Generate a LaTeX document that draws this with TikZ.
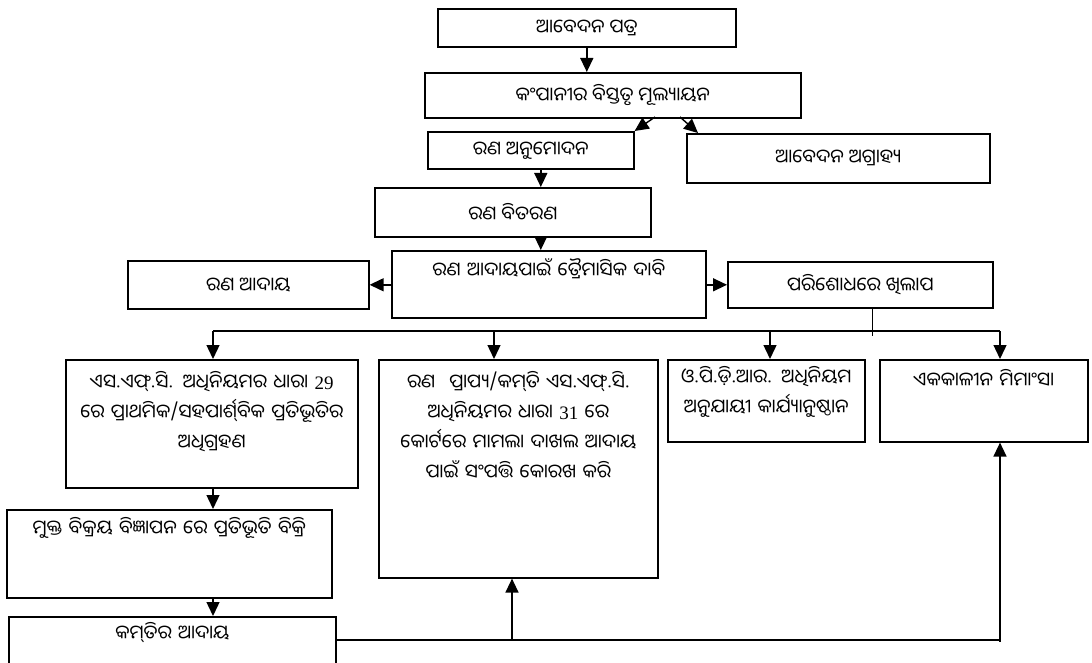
\documentclass[tikz,border=0pt]{standalone}
\usepackage{fontspec}
\newfontfamily\odia[Script=Oriya]{Noto Sans Oriya UI}
\newfontfamily\latn{Liberation Serif}
\usetikzlibrary{arrows.meta,calc}

\begin{document}
\begin{tikzpicture}[x=1pt,y=-1pt]
\tikzset{box/.style = {draw, line width=1.6pt, inner sep=0pt, anchor=north west, font=\odia\fontsize{19}{30}\selectfont}}
\tikzset{topbox/.style = {box, align=center}}
\tikzset{arr/.style = {-{Triangle[width=13pt,length=14pt]}, line width=1.4pt}}
\tikzset{wire/.style = {line width=1.4pt}}
\useasboundingbox (0,0) rectangle (1092,663);
% boxes
\node[box, minimum width=298pt, minimum height=38pt] (apply) at (437,8) {ଆବେଦନ ପତ୍ର};
\node[box, minimum width=376pt, minimum height=45pt] (eval) at (424,72) {କଂପାନୀର ବିସ୍ତୃତ ମୂଲ୍ୟାୟନ};
\node[box, minimum width=206pt, minimum height=37pt] (sanction) at (427,131) {ରଣ ଅନୁମୋଦନ};
\node[box, minimum width=303pt, minimum height=49pt] (reject) at (686,133) {ଆବେଦନ ଅଗ୍ରାହ୍ୟ};
\node[box, minimum width=276pt, minimum height=49pt] (disburse) at (374,187) {ରଣ ବିତରଣ};
\node[topbox, minimum width=314pt, minimum height=67pt, text width=308pt,
  text height=27pt, text depth=40pt] (demand) at (391,250) {ରଣ ଆଦାୟପାଇଁ ତ୍ରୈମାସିକ ଦାବି};
\node[box, minimum width=241pt, minimum height=48pt] (recover) at (127,260) {ରଣ ଆଦାୟ};
\node[box, minimum width=265pt, minimum height=46pt] (lapse) at (727,261) {ପରିଶୋଧରେ ଖିଲାପ};
\node[topbox, minimum width=292pt, minimum height=128pt, text width=288pt,
  text height=30pt, text depth=98pt] (sec29) at (65,359)
  {ଏସ.ଏଫ୍.ସି. ଅଧିନିୟମର ଧାରା {\latn 29}\\ରେ ପ୍ରାଥମିକ/ସହପାର୍ଶ୍^^^^200dବିକ ପ୍ରତିଭୂତିର\\ଅଧିଗ୍ରହଣ};
\node[topbox, minimum width=279pt, minimum height=218pt, text width=275pt,
  text height=30pt, text depth=188pt] (sec31) at (378,359)
  {ରଣ\hspace{14pt}ପ୍ରାପ୍ୟ/କମ୍^^^^200cତି ଏସ.ଏଫ୍.ସି.\\ଅଧିନିୟମର ଧାରା {\latn 31} ରେ\\କୋର୍ଟରେ ମାମଲା ଦାଖଲ ଆଦାୟ\\ପାଇଁ ସଂପତ୍ତି କୋରଖ କରି};
\node[topbox, minimum width=197pt, minimum height=82pt, text width=193pt,
  text height=25pt, text depth=57pt] (opdr) at (667,359)
  {ଓ.ପି.ଡ଼ି.ଆର. ଅଧିନିୟମ\\ଅନୁଯାୟୀ କାର୍ଯ୍ୟାନୁଷ୍ଠାନ};
\node[topbox, minimum width=208pt, minimum height=82pt, text width=204pt,
  text height=28pt, text depth=54pt] (settle) at (879,359) {ଏକକାଳୀନ ମିମାଂସା};
\node[topbox, minimum width=325pt, minimum height=88pt, text width=321pt,
  text height=26pt, text depth=62pt] (sale) at (6,509) {ମୁକ୍ତ ବିକ୍ରୟ ବିଜ୍ଞାପନ ରେ ପ୍ରତିଭୂତି ବିକ୍ରି};
\node[topbox, minimum width=327pt, minimum height=64pt, text width=323pt,
  text height=24pt, text depth=40pt] (shortfall) at (8,616) {କମ୍^^^^200cତିର ଆଦାୟ};
% upper arrows
\draw[arr] (apply.south) -- (apply.south |- eval.north);
\coordinate (e1) at (655,117);
\coordinate (e2) at (680,117);
\draw[arr] (e1) -- (sanction.north east);
\draw[arr] (e2) -- ($(reject.north west)+(12,0)$);
\draw[arr] ($(sanction.south)+(10,0)$) coordinate (s1) -- (s1 |- disburse.north);
\draw[arr] (s1 |- disburse.south) -- (s1 |- demand.north);
\draw[arr] (recover.east -| demand.west) -- (recover.east);
\draw[arr] (recover.east -| demand.east) -- (recover.east -| lapse.west);
% bus
\coordinate (b1) at (213,331);
\coordinate (b2) at (494,331);
\coordinate (b3) at (770,331);
\coordinate (b4) at (1000,331);
\draw[wire] ($(lapse.south)+(12,0)$) -- ++(0,27);
\draw[wire] (b1) -- (b4);
\draw[arr] (b1) -- (b1 |- sec29.north);
\draw[arr] (b2) -- (b2 |- sec31.north);
\draw[arr] (b3) -- (b3 |- opdr.north);
\draw[arr] (b4) -- (b4 |- settle.north);
% lower arrows
\draw[arr] (b1 |- sec29.south) -- (b1 |- sale.north);
\draw[arr] (b1 |- sale.south) -- (b1 |- shortfall.north);
\coordinate (c1) at (512,640);
\coordinate (c2) at (1000,640);
\draw[wire] (shortfall.east |- c1) -- (c2) -- ++(0,2);
\draw[arr] (c2) -- (c2 |- settle.south);
\draw[arr] (c1) -- (c1 |- sec31.south);
\end{tikzpicture}
\end{document}
